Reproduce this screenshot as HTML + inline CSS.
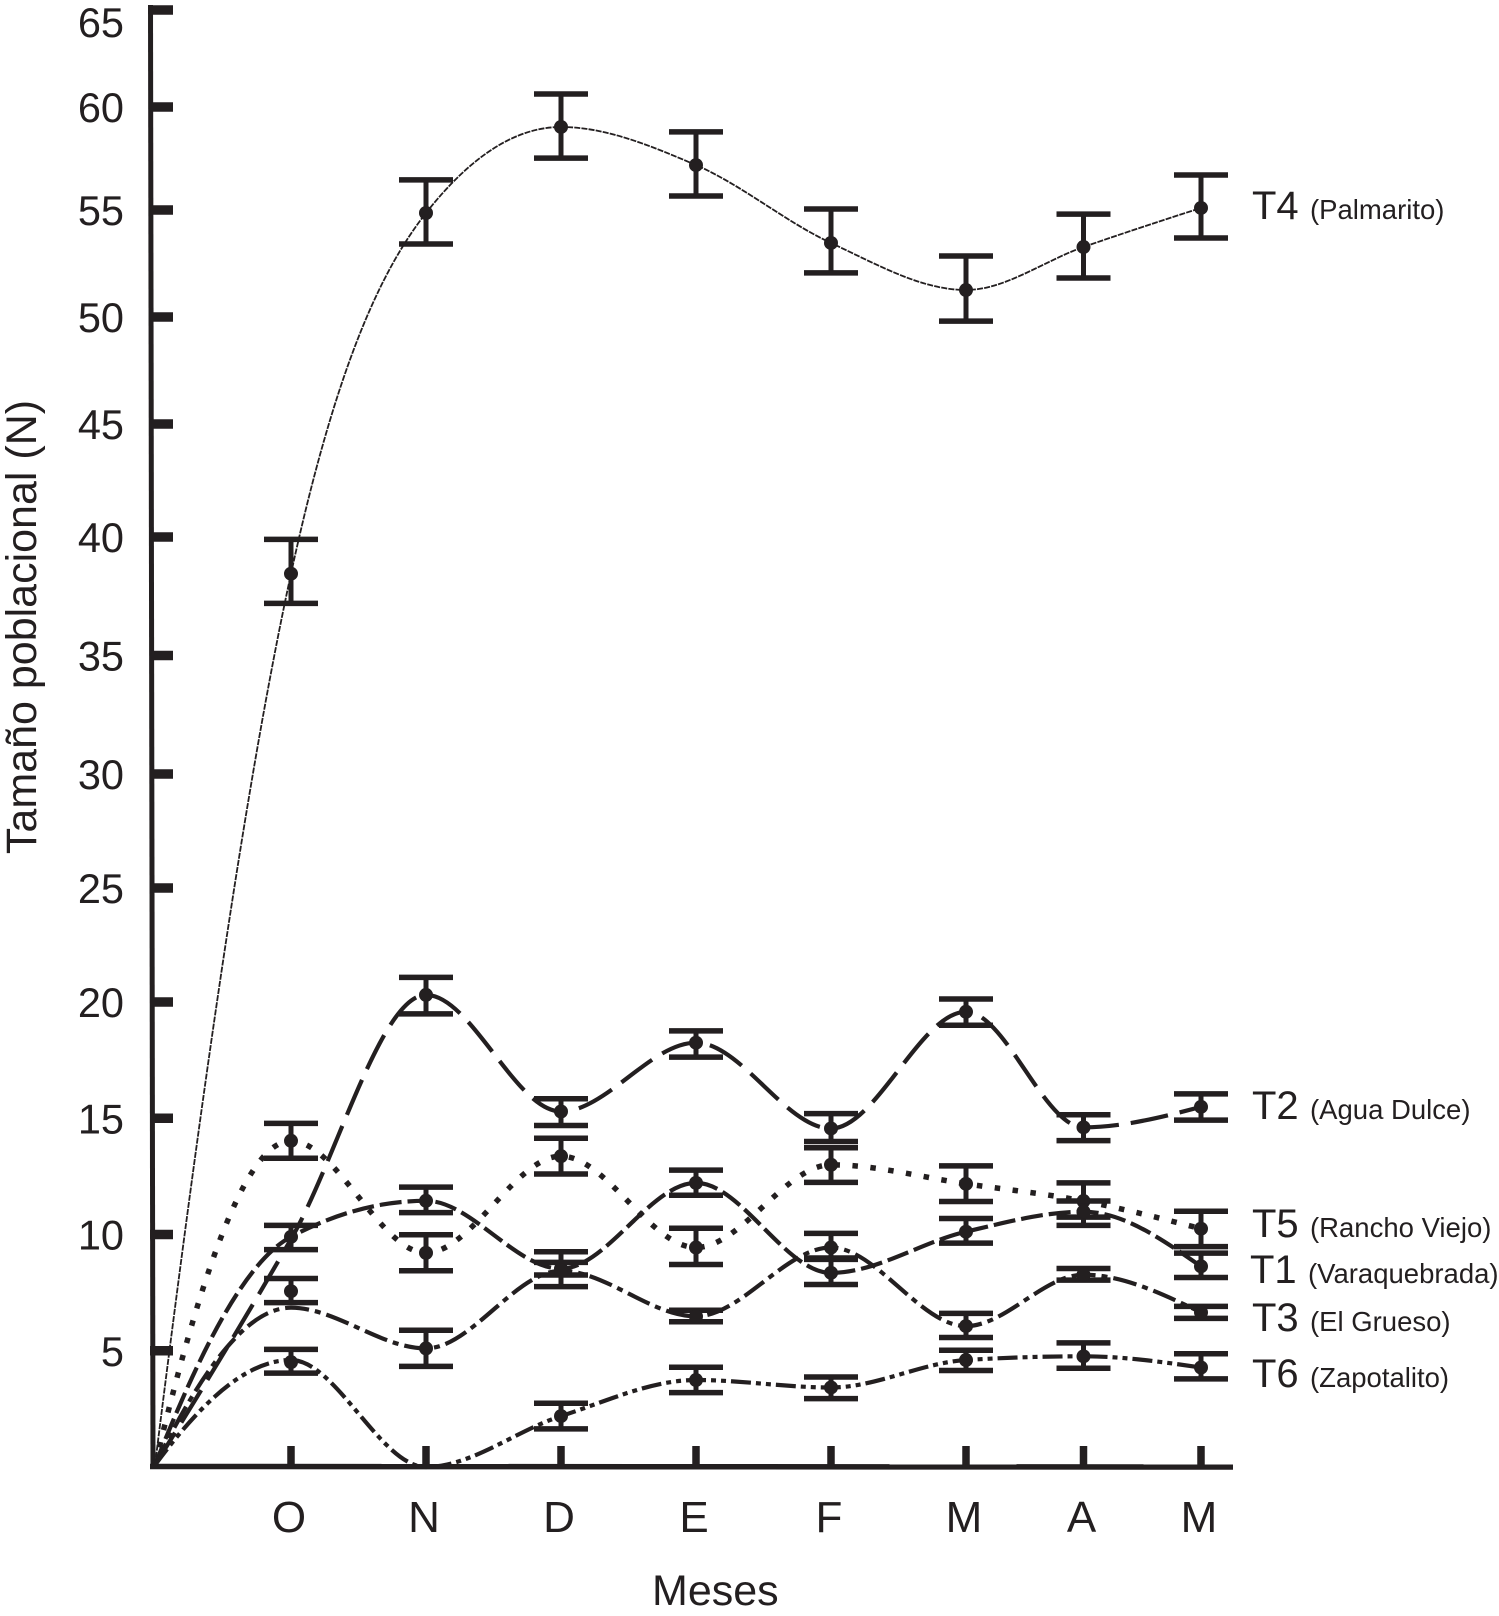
<!DOCTYPE html>
<html lang="es">
<head>
<meta charset="utf-8">
<title>Tamaño poblacional (N) por mes</title>
<style>
html,body{margin:0;padding:0;background:#fff;}
svg{display:block;font-family:"Liberation Sans",Arial,sans-serif;fill:#231f20;}
</style>
</head>
<body>
<svg id="chart" width="1499" height="1616" viewBox="0 0 1499 1616" xmlns="http://www.w3.org/2000/svg">
  <rect x="0" y="0" width="1499" height="1616" fill="#fff"/>
  <text transform="translate(36 627) rotate(-90)" text-anchor="middle" font-size="43">Tamaño poblacional (N)</text>
  <text x="652" y="1605" font-size="43">Meses</text>
</svg>
<script>
const months = ["O", "N", "D", "E", "F", "M", "A", "M"];
const yTicks = [5, 10, 15, 20, 25, 30, 35, 40, 45, 50, 55, 60, 65];

const t4Means = [38.45, 54.86, 59.03, 57.18, 53.46, 51.26, 53.27, 55.1];
const t4Upper = [39.9, 56.46, 60.67, 58.79, 55.05, 52.85, 54.81, 56.7];
const t4Lower = [37.2, 53.41, 57.52, 55.68, 52.06, 49.81, 51.82, 53.69];

const t2Fit = [9.8, 20.31, 15.29, 18.25, 14.56, 19.58, 14.61, 15.49];
const t2Means = [null, 20.31, 15.29, 18.25, 14.56, 19.58, 14.61, 15.49];
const t2Upper = [null, 21.08, 15.84, 18.76, 15.2, 20.13, 15.15, 16.05];
const t2Lower = [null, 19.49, 14.69, 17.63, 14.0, 19.0, 14.04, 14.92];

const t5Means = [14.03, 9.21, 13.37, 9.44, 13.0, 12.18, 11.44, 10.25];
const t5Upper = [14.78, 9.99, 14.14, 10.27, 13.73, 12.95, 12.22, 11.0];
const t5Lower = [13.28, 8.44, 12.6, 8.71, 12.24, 11.42, 10.75, 9.48];

const t1Means = [9.9, 11.45, 8.53, 12.22, 8.35, 10.12, 10.98, 8.63];
const t1Upper = [10.39, 12.04, 9.26, 12.77, 8.93, 10.69, 11.44, 9.2];
const t1Lower = [9.35, 10.94, 8.26, 11.69, 7.85, 9.63, 10.39, 8.15];

const t3Fit = [6.85, 5.1, 8.44, 6.48, 9.44, 6.06, 8.27, 6.65];
const t3Means = [7.56, 5.1, 8.44, 6.48, 9.44, 6.06, 8.27, 6.65];
const t3Upper = [8.11, 5.88, 8.8, 6.74, 10.05, 6.61, 8.54, 6.91];
const t3Lower = [7.07, 4.33, 7.76, 6.25, 8.99, 5.57, 8.04, 6.39];

const t6Fit = [4.6, 0, 2.19, 3.74, 3.42, 4.6, 4.76, 4.28];
const t6Means = [4.51, null, 2.19, 3.74, 3.42, 4.6, 4.76, 4.28];
const t6Upper = [5.06, null, 2.74, 4.29, 3.87, 5.02, 5.34, 4.87];
const t6Lower = [4.04, null, 1.64, 3.2, 2.94, 4.15, 4.25, 3.79];

const seriesNames = ["T4", "T2", "T5", "T1", "T3", "T6"];
const siteNames = ["(Palmarito)", "(Agua Dulce)", "(Rancho Viejo)", "(Varaquebrada)", "(El Grueso)", "(Zapotalito)"];

const INK = "#231f20";
const NS = "http://www.w3.org/2000/svg";
const svg = document.getElementById("chart");

/* Hand-drawn axes: both scales are piecewise linear between calibration anchors */
function yScale(v) {
  if (v <= 20) return 1467 - v * 23.25;
  if (v <= 30) return 1002 - (v - 20) * 22.8;
  if (v <= 40) return 774 - (v - 30) * 23.7;
  if (v <= 45) return 537 - (v - 40) * 22.6;
  if (v <= 55) return 424 - (v - 45) * 21.4;
  if (v <= 60) return 210 - (v - 55) * 20.6;
  return 107 - (v - 60) * 19.4;
}
function xScale(i) {
  if (i <= 5) return 291 + i * 135;
  return 966 + (i - 5) * 117.5;
}
const ORIGIN_X = 155;

function make(tag, attrs, parent) {
  const el = document.createElementNS(NS, tag);
  for (const k in attrs) el.setAttribute(k, attrs[k]);
  (parent || svg).appendChild(el);
  return el;
}

function monotonePath(xs, ys) {
  const n = xs.length;
  const h = [], s = [], t = new Array(n);
  for (let i = 0; i < n - 1; i++) {
    h[i] = xs[i + 1] - xs[i];
    s[i] = (ys[i + 1] - ys[i]) / h[i];
  }
  for (let i = 1; i < n - 1; i++) {
    const p = (s[i - 1] * h[i] + s[i] * h[i - 1]) / (h[i - 1] + h[i]);
    t[i] = (Math.sign(s[i - 1]) + Math.sign(s[i])) *
      Math.min(Math.abs(s[i - 1]), Math.abs(s[i]), 0.5 * Math.abs(p));
  }
  t[0] = s[0] + 0.75 * (s[0] - t[1]);
  t[n - 1] = (3 * s[n - 2] - t[n - 2]) / 2;
  let d = "M" + xs[0].toFixed(1) + " " + ys[0].toFixed(1);
  for (let i = 0; i < n - 1; i++) {
    const dx = h[i] / 3;
    d += "C" + (xs[i] + dx).toFixed(1) + " " + (ys[i] + dx * t[i]).toFixed(1) + " " +
      (xs[i + 1] - dx).toFixed(1) + " " + (ys[i + 1] - dx * t[i + 1]).toFixed(1) + " " +
      xs[i + 1].toFixed(1) + " " + ys[i + 1].toFixed(1);
  }
  return d;
}

/* Axes */
const spine = make("line", { x1: 150.5, y1: 5, x2: 153, y2: 1469, stroke: INK, "stroke-width": 5 });



const baseline = make("line", { x1: 150, y1: 1466.5, x2: 1233, y2: 1467, stroke: INK, "stroke-width": 5.5 });



yTicks.forEach(function (v) {
  const y = yScale(v);
  const tick = make("line", { x1: 150, y1: y, x2: 173, y2: y, stroke: INK, "stroke-width": 9.5 });
  
  
  const label = make("text", { x: 124, y: y + 15 + (v === 65 ? 12 : 0), "text-anchor": "end", "font-size": 41.5 });
  label.textContent = String(v);
  
  
});

months.forEach(function (m, i) {
  const x = xScale(i);
  const tick = make("line", { x1: x, y1: 1446, x2: x, y2: 1467, stroke: INK, "stroke-width": 7.5 });
  
  
  const label = make("text", { x: x - 2, y: 1532, "text-anchor": "middle", "font-size": 44 });
  label.textContent = m;
  
  
});

/* Series */
const seriesList = [
  { id: "t4", fit: t4Means, means: t4Means, upper: t4Upper, lower: t4Lower, width: 1.8, dash: "6 1.2", lx: 1252, ly: 219, sx: 1310 },
  { id: "t2", fit: t2Fit, means: t2Means, upper: t2Upper, lower: t2Lower, width: 4.2, dash: "38 12", lx: 1252, ly: 1119, sx: 1310 },
  { id: "t5", fit: t5Means, means: t5Means, upper: t5Upper, lower: t5Lower, width: 5.5, dash: "5.5 12.5", lx: 1252, ly: 1237, sx: 1310 },
  { id: "t1", fit: t1Means, means: t1Means, upper: t1Upper, lower: t1Lower, width: 4.2, dash: "22 6", lx: 1250, ly: 1283, sx: 1308 },
  { id: "t3", fit: t3Fit, means: t3Means, upper: t3Upper, lower: t3Lower, width: 4.2, dash: "24 6 6 6", lx: 1252, ly: 1331, sx: 1310 },
  { id: "t6", fit: t6Fit, means: t6Means, upper: t6Upper, lower: t6Lower, width: 4.2, dash: "20 5 5 5 5 5", lx: 1252, ly: 1387, sx: 1310 }
];

seriesList.forEach(function (s, idx) {
  const group = make("g", {});
  
  

  const xs = [ORIGIN_X].concat(s.fit.map(function (_, i) { return xScale(i); }));
  const ys = [yScale(0) - 2].concat(s.fit.map(yScale));
  const curve = make("path", {
    d: monotonePath(xs, ys), fill: "none", stroke: INK,
    "stroke-width": s.width, "stroke-dasharray": s.dash
  }, group);
  
  

  s.means.forEach(function (v, i) {
    if (v === null) return;
    const x = xScale(i);
    const stem = make("line", { x1: x, y1: yScale(s.upper[i]), x2: x, y2: yScale(s.lower[i]), stroke: INK, "stroke-width": 5 }, group);
    
    
    const capTop = make("line", { x1: x - 27, y1: yScale(s.upper[i]), x2: x + 27, y2: yScale(s.upper[i]), stroke: INK, "stroke-width": 5.5 }, group);
    
    
    const capBottom = make("line", { x1: x - 27, y1: yScale(s.lower[i]), x2: x + 27, y2: yScale(s.lower[i]), stroke: INK, "stroke-width": 5.5 }, group);
    
    
    const dot = make("circle", { cx: x, cy: yScale(v), r: 7, fill: INK }, group);
    
    
  });

  const code = make("text", { x: s.lx, y: s.ly, "font-size": 40 });
  code.textContent = seriesNames[idx];
  
  
  const site = make("text", { x: s.sx, y: s.ly, "font-size": 27.5 });
  site.textContent = siteNames[idx];
  
  
});
</script>
</body>
</html>
